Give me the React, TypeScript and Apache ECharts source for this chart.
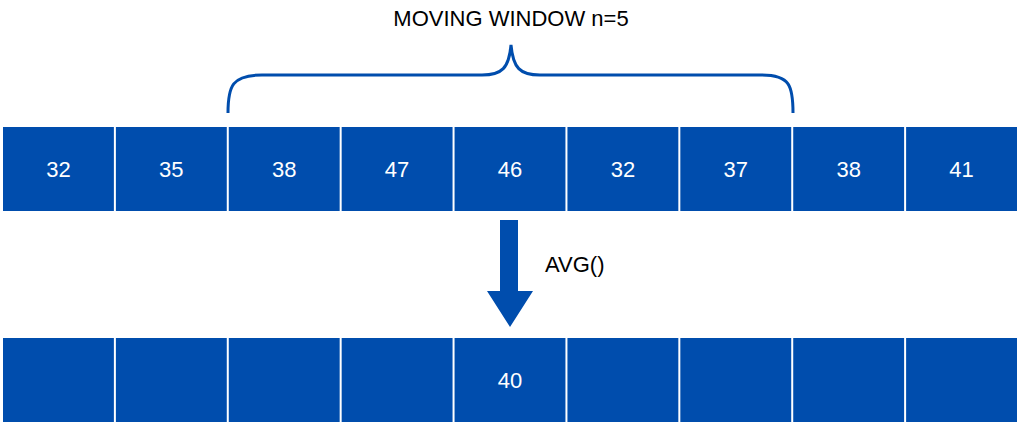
import { useEffect, useRef } from "react";
import * as echarts from "echarts";

const inputValues = [32, 35, 38, 47, 46, 32, 37, 38, 41];
const outputValues: (number | null)[] = [null, null, null, null, 40, null, null, null, null];
const windowLabel = "MOVING WINDOW n=5";
const opLabel = "AVG()";

const BLUE = "#004DAD";

echarts.graphic.registerShape(
  "brace",
  echarts.graphic.extendPath(
    "M228,113 C228,86 232,75 262,75 L482,75 C502,75 509,68 511,45 C513,68 520,75 540,75 L762,75 C790,75 793,86 793,113",
    {}
  )
);

export default function App() {
  const ref = useRef<HTMLDivElement>(null);

  useEffect(() => {
    if (!ref.current) return;
    const chart = echarts.init(ref.current, null, { renderer: "svg" });
    const rows = [
      { vals: inputValues, y0: 0, y1: 84 / 295 },
      { vals: outputValues, y0: 211 / 295, y1: 1 },
    ];
    const data: any[] = [];
    rows.forEach((r, ri) =>
      r.vals.forEach((v, i) => data.push([i, ri, v == null ? "" : String(v)]))
    );
    chart.setOption({
      animation: false,
      grid: { left: 2, right: 2, top: 127, bottom: 9 },
      xAxis: { type: "value", min: 0, max: 9, show: false },
      yAxis: { type: "value", min: 0, max: 1, inverse: true, show: false },
      series: [
        {
          type: "custom",
          data,
          renderItem: (params: any, api: any) => {
            const i = api.value(0);
            const r = rows[api.value(1)];
            const p0 = api.coord([i, r.y0]);
            const p1 = api.coord([i + 1, r.y1]);
            const label = data[params.dataIndex][2];
            return {
              type: "group",
              children: [
                {
                  type: "rect",
                  shape: { x: p0[0] + 1, y: p0[1], width: p1[0] - p0[0] - 2, height: p1[1] - p0[1] },
                  style: { fill: BLUE },
                },
                {
                  type: "text",
                  style: {
                    text: label,
                    x: (p0[0] + p1[0]) / 2,
                    y: (p0[1] + p1[1]) / 2,
                    align: "center",
                    verticalAlign: "middle",
                    fill: "#fff",
                    font: "22px Arial, 'Liberation Sans', sans-serif",
                  },
                },
              ],
            };
          },
        },
      ],
      graphic: [
        {
          type: "text",
          style: {
            text: windowLabel,
            x: 511,
            y: 18,
            align: "center",
            verticalAlign: "middle",
            fill: "#000",
            font: "22px Arial, 'Liberation Sans', sans-serif",
          },
        },
        {
          type: "brace",
          x: 0,
          y: 0,
          style: { fill: "none", stroke: BLUE, lineWidth: 3 },
        },
        {
          type: "polygon",
          shape: {
            points: [
              [500, 220], [518, 220], [518, 291], [533, 291],
              [510, 327], [487, 291], [500, 291],
            ],
          },
          style: { fill: BLUE },
        },
        {
          type: "text",
          style: {
            text: opLabel,
            x: 545,
            y: 264,
            verticalAlign: "middle",
            fill: "#000",
            font: "22px Arial, 'Liberation Sans', sans-serif",
          },
        },
      ],
    });
    return () => chart.dispose();
  }, []);

  return (
    <div
      ref={ref}
      style={{ position: "absolute", left: 0, top: 0, width: 1020, height: 431, background: "#fff" }}
    />
  );
}
